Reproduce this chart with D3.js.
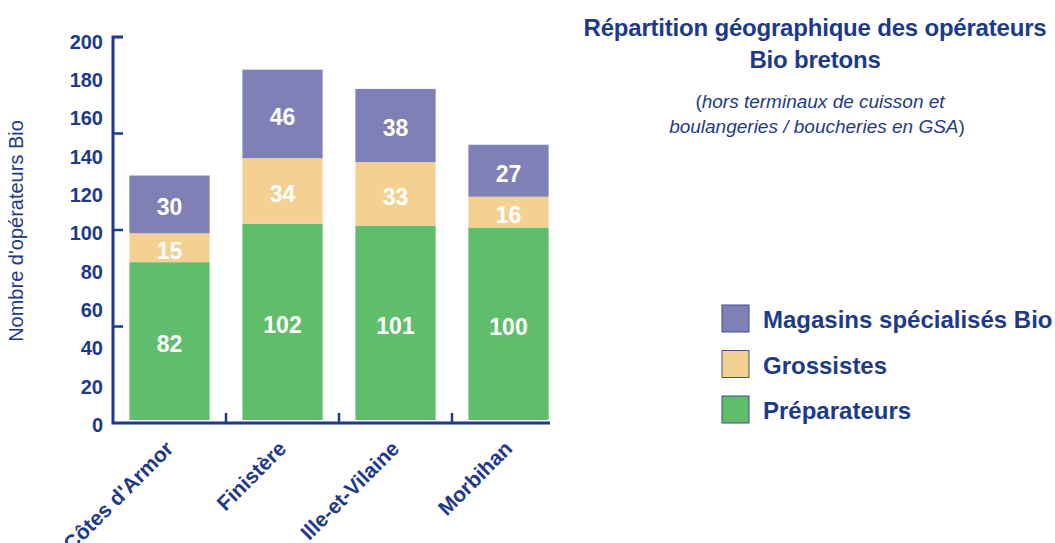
<!DOCTYPE html>
<html>
<head>
<meta charset="utf-8">
<script src="https://cdn.jsdelivr.net/npm/d3@7"></script>
<style>
  body { margin: 0; background: #fff; }
  text { font-family: "Liberation Sans", Arial, sans-serif; }
</style>
</head>
<body>
<svg id="chart" width="1055" height="543"></svg>
<script>
const svg = d3.select('#chart');

const departements = ["Côtes d'Armor", "Finistère", "Ille-et-Vilaine", "Morbihan"];
const preparateurs = [82, 102, 101, 100];
const grossistes = [15, 34, 33, 16];
const magasins = [30, 46, 38, 27];
const yTickLabels = [0, 20, 40, 60, 80, 100, 120, 140, 160, 180, 200];
const yTickMarks = [0, 50, 100, 150, 200];

const navy = '#1d3a8a';
const series = [
    { name: 'Préparateurs', values: preparateurs, fill: '#5fbd6b' },
    { name: 'Grossistes', values: grossistes, fill: '#f4d192' },
    { name: 'Magasins spécialisés Bio', values: magasins, fill: '#7f80b6' }
];

const x0 = 113, yBase = 423;
const x = d3.scaleBand().domain(departements).range([x0, x0 + 113 * 4]).paddingInner(0.29).paddingOuter(0.145);
const y = d3.scaleLinear().domain([0, 200]).range([yBase, 37]);
// bars sit a few pixels above the axis line
const yBar = d3.scaleLinear().domain([0, 200]).range([420, 35]);

// stacked bars
let stacks = departements.map(() => 0);
series.forEach(s => {
    departements.forEach((d, i) => {
        let v = s.values[i];
        let y0 = stacks[i];
        let y1 = y0 + v;
        stacks[i] = y1;
        svg.append('rect')
            .attr('x', x(d))
            .attr('y', yBar(y1))
            .attr('width', x.bandwidth())
            .attr('height', yBar(y0) - yBar(y1))
            .attr('fill', s.fill);
        svg.append('text')
            .attr('x', x(d) + x.bandwidth() / 2)
            .attr('y', (yBar(y0) + yBar(y1)) / 2 + 11)
            .attr('text-anchor', 'middle')
            .attr('fill', '#fff')
            .attr('font-weight', 'bold')
            .attr('font-size', 23)
            .text(v);
    });
});

// axes
svg.append('path')
    .attr('d', d3.line()([[x0 + 10, y(200)], [x0, y(200)], [x0, yBase], [550, yBase]]))
    .attr('fill', 'none')
    .attr('stroke', navy)
    .attr('stroke-width', 3);

yTickMarks.slice(1, -1).forEach(t => {
    svg.append('path')
        .attr('d', d3.line()([[x0, y(t)], [x0 + 10, y(t)]]))
        .attr('stroke', navy)
        .attr('stroke-width', 2.5);
});

yTickLabels.forEach(t => {
    svg.append('text')
        .attr('x', 103)
        .attr('y', y(t) + 9 + 2.5 * (t / 200))
        .attr('text-anchor', 'end')
        .attr('fill', navy)
        .attr('font-weight', 'bold')
        .attr('font-size', 20)
        .text(t);
});

departements.slice(1).forEach(d => {
    let xt = x(d) - x.step() * x.paddingInner() / 2;
    svg.append('path')
        .attr('d', d3.line()([[xt, yBase], [xt, yBase - 10]]))
        .attr('stroke', navy)
        .attr('stroke-width', 2.5);
});

departements.forEach(d => {
    let cx = x(d) + x.bandwidth() / 2 + 5;
    svg.append('text')
        .attr('transform', `translate(${cx},${yBase + 27}) rotate(-45)`)
        .attr('text-anchor', 'end')
        .attr('fill', navy)
        .attr('font-weight', 'bold')
        .attr('font-size', 21)
        .text(d);
});

svg.append('text')
    .attr('transform', 'translate(23,231) rotate(-90)')
    .attr('text-anchor', 'middle')
    .attr('fill', navy)
    .attr('font-size', 20)
    .text("Nombre d'opérateurs Bio");

// title
const cxTitle = 815;
svg.append('text').attr('x', cxTitle).attr('y', 36)
    .attr('text-anchor', 'middle').attr('fill', navy)
    .attr('font-weight', 'bold').attr('font-size', 24)
    .attr('letter-spacing', -0.2)
    .text('Répartition géographique des opérateurs');
svg.append('text').attr('x', cxTitle).attr('y', 68)
    .attr('text-anchor', 'middle').attr('fill', navy)
    .attr('font-weight', 'bold').attr('font-size', 24)
    .attr('letter-spacing', -0.2)
    .text('Bio bretons');

const sub1 = svg.append('text').attr('x', 820).attr('y', 108)
    .attr('text-anchor', 'middle').attr('fill', navy).attr('font-size', 19);
sub1.append('tspan').text('(');
sub1.append('tspan').attr('font-style', 'italic').text('hors terminaux de cuisson et');
const sub2 = svg.append('text').attr('x', 817).attr('y', 133)
    .attr('text-anchor', 'middle').attr('fill', navy).attr('font-size', 19);
sub2.append('tspan').attr('font-style', 'italic').text('boulangeries / boucheries en GSA');
sub2.append('tspan').text(')');

// legend
const legend = series.slice().reverse();
legend.forEach((s, i) => {
    let ly = 305 + i * 45.5;
    svg.append('rect')
        .attr('x', 722).attr('y', ly)
        .attr('width', 27).attr('height', 27)
        .attr('fill', s.fill)
        .attr('stroke', '#3f4f8f')
        .attr('stroke-width', 1);
    svg.append('text')
        .attr('x', 763).attr('y', ly + 23)
        .attr('fill', navy)
        .attr('font-weight', 'bold')
        .attr('font-size', 24)
        .text(s.name);
});
</script>
</body>
</html>
